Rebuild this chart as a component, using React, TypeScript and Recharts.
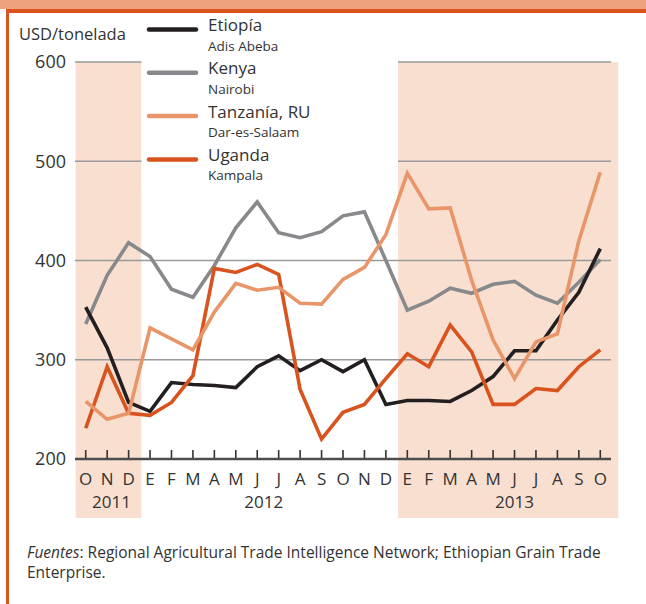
import React from 'react';
import { LineChart, Line, XAxis, YAxis, ReferenceArea, ReferenceLine } from 'recharts';

// monthly maize prices, Oct 2011 - Oct 2013 (USD/tonelada)
const months = ['O', 'N', 'D', 'E', 'F', 'M', 'A', 'M', 'J', 'J', 'A', 'S', 'O', 'N', 'D', 'E', 'F', 'M', 'A', 'M', 'J', 'J', 'A', 'S', 'O'];
const etiopia = [353, 312, 257, 248, 277, 275, 274, 272, 293, 304, 289, 300, 288, 300, 255, 259, 259, 258, 269, 283, 309, 309, 340, 368, 412];
const kenya = [336, 385, 418, 404, 371, 363, 395, 433, 459, 428, 423, 429, 445, 449, 400, 350, 359, 372, 367, 376, 379, 365, 357, 378, 401];
const tanzania = [258, 240, 246, 332, 321, 310, 348, 377, 370, 373, 357, 356, 381, 393, 426, 488, 452, 453, 380, 320, 281, 318, 326, 420, 489];
const uganda = [231, 293, 246, 244, 257, 284, 392, 388, 396, 386, 270, 220, 247, 255, 281, 306, 293, 335, 308, 255, 255, 271, 269, 293, 310];

const years = ['2011', '2012', '2013'];
const yearTicks = [1.2, 8.3, 20];
const yTicks = [200, 300, 400, 500, 600];

const legendItems = [
  { name: 'Etiopía', city: 'Adis Abeba', color: '#231f20' },
  { name: 'Kenya', city: 'Nairobi', color: '#87898c' },
  { name: 'Tanzanía, RU', city: 'Dar-es-Salaam', color: '#e9956a' },
  { name: 'Uganda', city: 'Kampala', color: '#d9531e' },
];

const data = months.map((m, i) => ({
  i,
  m,
  etiopia: etiopia[i],
  kenya: kenya[i],
  tanzania: tanzania[i],
  uganda: uganda[i],
}));

const FONT = '"Open Sans", sans-serif';
const TEXT = '#333333';
const SHADE = '#f9dfcf';

const MonthTick = (props: any) => {
  const { x, y, payload } = props;
  return (
    <g>
      <line x1={x} x2={x} y1={y - 9} y2={y - 1} stroke="#333" strokeWidth={1.6} />
      <text x={x} y={y + 26} textAnchor="middle" fontSize={17} fill={TEXT} fontFamily={FONT}>
        {months[payload.value]}
      </text>
    </g>
  );
};

const YearTick = (props: any) => {
  const { x, y, payload } = props;
  const idx = yearTicks.indexOf(payload.value);
  return (
    <text x={x} y={y + 19} textAnchor="middle" fontSize={17} fill={TEXT} fontFamily={FONT}>
      {years[idx]}
    </text>
  );
};

export default function App() {
  return (
    <div style={{ position: 'absolute', left: 0, top: 0, width: 646, height: 604, background: '#fff', overflow: 'hidden', fontFamily: FONT }}>
      {/* frame */}
      <div style={{ position: 'absolute', left: 0, top: 0, width: 646, height: 9, background: '#efa37c' }} />
      <div style={{ position: 'absolute', left: 6, top: 9, width: 640, height: 4, background: '#d9541e' }} />
      <div style={{ position: 'absolute', left: 6, top: 9, width: 2.5, height: 595, background: '#d9541e' }} />

      <div style={{ position: 'absolute', left: 0, top: 0 }}>
        <LineChart width={646} height={540} data={data} margin={{ top: 62, right: 35, bottom: 21, left: 0 }}>
          <ReferenceArea x1={-0.47} x2={2.59} y1={140.6} y2={600} fill={SHADE} fillOpacity={1} stroke="none" ifOverflow="visible" />
          <ReferenceArea x1={14.57} x2={24.84} y1={140.6} y2={600} fill={SHADE} fillOpacity={1} stroke="none" ifOverflow="visible" />
          {yTicks.slice(1).map((v) => (
            <ReferenceLine key={v} y={v} stroke="#9a9a9a" strokeWidth={1.3} />
          ))}
          <XAxis
            dataKey="i"
            type="number"
            domain={[-0.5, 24.5]}
            ticks={months.map((_, i) => i)}
            interval={0}
            height={30}
            tickSize={0}
            tickMargin={0}
            tickLine={false}
            axisLine={{ stroke: '#4d4d4d', strokeWidth: 2.5 }}
            tick={<MonthTick />}
          />
          <XAxis
            xAxisId="year"
            dataKey="i"
            type="number"
            domain={[-0.5, 24.5]}
            ticks={yearTicks}
            interval={0}
            height={30}
            tickSize={0}
            tickMargin={0}
            tickLine={false}
            axisLine={false}
            tick={<YearTick />}
          />
          <YAxis
            type="number"
            domain={[200, 600]}
            ticks={yTicks}
            width={75}
            tickSize={0}
            tickMargin={9}
            axisLine={false}
            tickLine={false}
            tick={{ fontSize: 18, fill: TEXT, fontFamily: FONT }}
          />
          <Line type="linear" dataKey="kenya" stroke="#87898c" strokeWidth={3.6} dot={false} isAnimationActive={false} />
          <Line type="linear" dataKey="etiopia" stroke="#231f20" strokeWidth={3.6} dot={false} isAnimationActive={false} />
          <Line type="linear" dataKey="uganda" stroke="#d9531e" strokeWidth={3.6} dot={false} isAnimationActive={false} />
          <Line type="linear" dataKey="tanzania" stroke="#e9956a" strokeWidth={3.6} dot={false} isAnimationActive={false} />
        </LineChart>
      </div>

      {/* axis title and legend */}
      <svg width={646} height={200} style={{ position: 'absolute', left: 0, top: 0, pointerEvents: 'none' }}>
        <text x={19} y={40} fontSize={16.5} fill={TEXT} fontFamily={FONT}>USD/tonelada</text>
        <rect x={141.5} y={14} width={256.5} height={175} fill="#fff" />
        {legendItems.map((d, k) => {
          const base = 31 + k * 43.3;
          return (
            <g key={d.name}>
              <line x1={149} x2={196} y1={base - 1.5} y2={base - 1.5} stroke={d.color} strokeWidth={4.5} strokeLinecap="round" />
              <text x={208} y={base} fontSize={17} fill={TEXT} fontFamily={FONT}>{d.name}</text>
              <text x={208} y={base + 19.5} fontSize={13.5} fill={TEXT} fontFamily={FONT}>{d.city}</text>
            </g>
          );
        })}
      </svg>

      <div style={{ position: 'absolute', left: 27, top: 542, width: 600, fontSize: 15.5, lineHeight: '20px', color: TEXT }}>
        <span><i>Fuentes</i>: Regional Agricultural Trade Intelligence Network; Ethiopian Grain Trade Enterprise.</span>
      </div>
    </div>
  );
}
